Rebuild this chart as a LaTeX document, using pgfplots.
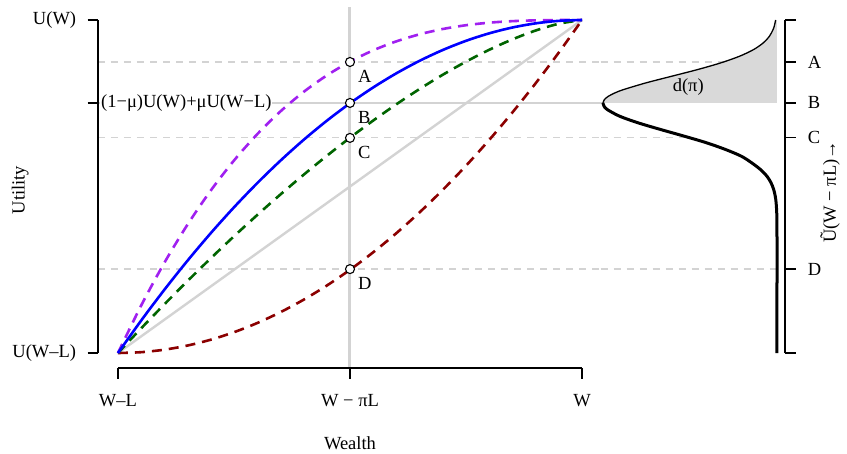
\documentclass[border=0pt]{standalone}
\usepackage{pgfplots}
\pgfplotsset{compat=1.18}
\usepackage{fontspec}
\setmainfont{Liberation Serif}
\definecolor{lgray}{HTML}{D3D3D3}
\definecolor{fgray}{HTML}{D9D9D9}
\definecolor{rpurple}{HTML}{A020F0}
\definecolor{rblue}{HTML}{0000FF}
\definecolor{rgreen}{HTML}{006400}
\definecolor{rred}{HTML}{8B0000}
\pgfplotsset{
  dgray/.style={lgray, line width=1.2pt, dash pattern=on 7pt off 6pt},
  cdash/.style={line width=2.6pt, dash pattern=on 10pt off 7pt},
}
\begin{document}
\fontsize{18.5pt}{22pt}\selectfont
\begin{tikzpicture}
\path[use as bounding box] (0,0) rectangle (847pt,453pt);
\begin{axis}[
  at={(98pt,85pt)}, anchor=south west, scale only axis,
  width=502.6pt, height=361.3pt,
  xmin=-0.043, xmax=1.04, ymin=-0.045, ymax=1.04,
  clip=false,
  axis x line*=bottom, axis y line*=left,
  axis line style={draw=none},
  tick align=outside, major tick length=10.5pt,
  tick style={black, line width=1.2pt},
  xtick={0,0.5,1}, xticklabels={W–L, W − πL, W},
  ytick={0,0.751,1}, yticklabels={U(W–L),,U(W)},
  xticklabel style={yshift=-10pt},
  yticklabel style={xshift=-5pt},
  xlabel={Wealth}, ylabel={Utility},
  xlabel style={at={(axis description cs:0.5014,-0.208)}, anchor=center},
  ylabel style={at={(axis description cs:-0.155,0.4927)}, anchor=center},
]
% reference lines
\addplot[lgray, line width=3pt] coordinates {(0.5,-0.045) (0.5,1.04)};
\addplot[lgray, line width=2pt] coordinates {(-0.043,0.751) (1.04,0.751)};
\addplot[dgray] coordinates {(-0.043,0.874) (1.04,0.874)};
\addplot[dgray] coordinates {(-0.043,0.646) (1.04,0.646)};
\addplot[dgray] coordinates {(-0.043,0.252) (1.04,0.252)};
% axis lines (range frame)
\draw[line width=1.2pt] (axis cs:-0.043,0) -- (axis cs:-0.043,1);
\draw[line width=1.2pt] (axis cs:0,-0.045) -- (axis cs:1,-0.045);
% linear
\addplot[lgray, line width=2.4pt] coordinates {(0,0) (1,1)};
% convex (dark red)
\addplot[rred, cdash, smooth] coordinates {
(0,0) (0.05,0.0025) (0.1,0.01) (0.15,0.0225) (0.2,0.04) (0.25,0.0625) (0.3,0.09)
(0.35,0.1225) (0.4,0.16) (0.45,0.2025) (0.5,0.25) (0.55,0.3025) (0.6,0.36)
(0.65,0.4225) (0.7,0.49) (0.75,0.5625) (0.8,0.64) (0.85,0.7225) (0.9,0.81)
(0.95,0.9025) (1,1)};
% green
\addplot[rgreen, cdash, smooth] coordinates {
(0,0) (0.05,0.0741) (0.1,0.1462) (0.15,0.2163) (0.2,0.2845) (0.25,0.3505) (0.3,0.4143)
(0.35,0.4760) (0.4,0.5352) (0.45,0.5921) (0.5,0.6464) (0.55,0.6981) (0.6,0.7470)
(0.65,0.7929) (0.7,0.8357) (0.75,0.875) (0.8,0.9106) (0.85,0.9419) (0.9,0.9684)
(0.95,0.9888) (1,1)};
% purple
\addplot[rpurple, cdash, smooth] coordinates {
(0,0) (0.05,0.1426) (0.1,0.271) (0.15,0.3859) (0.2,0.488) (0.25,0.5781) (0.3,0.657)
(0.35,0.7254) (0.4,0.784) (0.45,0.8336) (0.5,0.875) (0.55,0.9089) (0.6,0.936)
(0.65,0.9571) (0.7,0.973) (0.75,0.9844) (0.8,0.992) (0.85,0.9966) (0.9,0.999)
(0.95,0.9999) (1,1)};
% blue
\addplot[rblue, line width=2.6pt, smooth] coordinates {
(0,0) (0.05,0.0975) (0.1,0.19) (0.15,0.2775) (0.2,0.36) (0.25,0.4375) (0.3,0.51)
(0.35,0.5775) (0.4,0.64) (0.45,0.6975) (0.5,0.75) (0.55,0.7975) (0.6,0.84)
(0.65,0.8775) (0.7,0.91) (0.75,0.9375) (0.8,0.96) (0.85,0.9775) (0.9,0.99)
(0.95,0.9975) (1,1)};
% points
\addplot[only marks, mark=*, mark size=4.5pt,
  mark options={fill=white, draw=black, line width=1.1pt}]
  coordinates {(0.5,0.874) (0.5,0.751) (0.5,0.646) (0.5,0.252)};
\node[anchor=north west, inner sep=0pt, xshift=8pt, yshift=-8pt] at (axis cs:0.5,0.874) {A};
\node[anchor=north west, inner sep=0pt, xshift=8pt, yshift=-8pt] at (axis cs:0.5,0.751) {B};
\node[anchor=north west, inner sep=0pt, xshift=8pt, yshift=-8pt] at (axis cs:0.5,0.646) {C};
\node[anchor=north west, inner sep=0pt, xshift=8pt, yshift=-8pt] at (axis cs:0.5,0.252) {D};
\node[anchor=west, fill=white, inner sep=1pt, xshift=2pt] at (axis cs:-0.043,0.751)
  {(1−μ)U(W)+μU(W−L)};
\end{axis}

\begin{axis}[
  at={(600.6pt,85pt)}, anchor=south west, scale only axis,
  width=184.4pt, height=361.3pt,
  x dir=reverse, xmin=-0.046, xmax=1.0138, ymin=-0.045, ymax=1.04,
  clip=false,
  axis y line*=right, axis x line=none,
  axis line style={draw=none},
  tick align=outside, major tick length=10.5pt,
  tick style={black, line width=1.2pt},
  ytick={0,0.252,0.646,0.751,0.874,1}, yticklabels={,D,C,B,A,},
  yticklabel style={xshift=6pt},
]
% fill of upper part
\addplot[fill=fgray, draw=none] coordinates {
(1.0,0.751) (0.9922,0.761) (0.9692,0.771) (0.9321,0.781) (0.8825,0.791) (0.7548,0.811)
(0.6065,0.831) (0.4578,0.851) (0.3247,0.871) (0.2163,0.891) (0.1353,0.911)
(0.0796,0.931) (0.0439,0.951) (0.0228,0.971) (0.0139,0.985) (0.0079,1.0)
(0,1.0) (0,0.751)} -- cycle;
% reference lines in right panel
\addplot[lgray, line width=2pt] coordinates {(1.0138,0.751) (1.0,0.751)};
\addplot[dgray] coordinates {(1.0138,0.874) (0.31,0.874)};
\addplot[dgray] coordinates {(1.0138,0.646) (0.5,0.646)};
\addplot[dgray] coordinates {(1.0138,0.252) (0,0.252)};
% right axis line
\draw[line width=1.2pt] (axis cs:-0.046,0) -- (axis cs:-0.046,1);
% upper curve (thin)
\addplot[black, line width=1.3pt, smooth] coordinates {
(1.0,0.751) (0.9922,0.761) (0.9692,0.771) (0.9321,0.781) (0.8825,0.791) (0.7548,0.811)
(0.6065,0.831) (0.4578,0.851) (0.3247,0.871) (0.2163,0.891) (0.1353,0.911)
(0.0796,0.931) (0.0439,0.951) (0.0228,0.971) (0.0139,0.985) (0.0079,1.0)};
% lower curve (thick)
\addplot[black, line width=3pt, smooth] coordinates {
(1.0,0.751) (0.9937,0.741) (0.9751,0.731) (0.9039,0.711) (0.7967,0.691) (0.6676,0.671)
(0.5320,0.651) (0.4029,0.631) (0.295,0.611) (0.205,0.591) (0.145,0.571) (0.095,0.551)
(0.058,0.531) (0.034,0.511) (0.019,0.491) (0.010,0.471) (0.005,0.451) (0.0015,0.421)
(0.0003,0.391) (0,0.35) (0,0.2) (0,0)};
\node[anchor=center] at (axis cs:0.51,0.799) {d(π)};
\end{axis}
\node[rotate=90, anchor=center] at (830pt,261pt) {Ũ(W − πL)→};
\end{tikzpicture}
\end{document}
